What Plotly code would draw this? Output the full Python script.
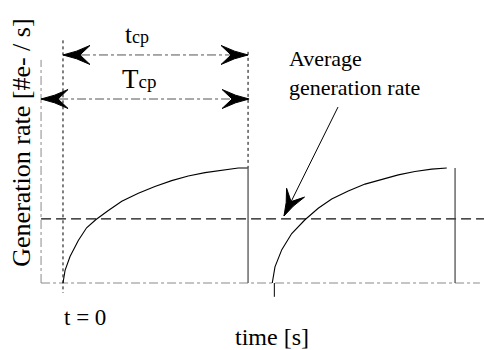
import numpy as np
import plotly.graph_objects as go

# ---- data (time in units of one period, rate normalised) ----
curve1_t = [0.0, 0.01, 0.034, 0.074, 0.114, 0.158, 0.219, 0.284, 0.364, 0.444,
            0.525, 0.605, 0.686, 0.767, 0.847, 0.892]
curve1_rate = [0.0, 0.11, 0.23, 0.37, 0.48, 0.55, 0.63, 0.71, 0.78, 0.84,
               0.89, 0.93, 0.96, 0.98, 1.0, 1.0]
curve2_t = [1.011, 1.024, 1.057, 1.105, 1.169, 1.233, 1.298, 1.378, 1.459,
            1.54, 1.62, 1.70, 1.781, 1.854]
curve2_rate = [0.0, 0.14, 0.29, 0.43, 0.55, 0.65, 0.73, 0.80, 0.86, 0.90,
               0.94, 0.97, 0.99, 1.0]
avg_rate = 0.557
period_edges = [-0.106, 0.894, 1.894]      # Tcp boundaries
tcp_window = [0.0, 0.894]                  # integration time tcp
peak_rate = 1.0

# ---- geometry of the page (axis ranges chosen so that the drawing fills the page) ----
W, H = 484, 350
XR = [-0.3043, 2.0338]
YR = [-0.5826, 2.4609]
px_per_t = W / (XR[1] - XR[0])
px_per_v = H / (YR[1] - YR[0])

FONT = "Liberation Serif"
GRAY = "#8a8a8a"

fig = go.Figure()


def line(xs, ys, color="black", width=1, dash="solid"):
    fig.add_trace(go.Scatter(x=xs, y=ys, mode="lines", hoverinfo="skip",
                             line=dict(color=color, width=width, dash=dash),
                             showlegend=False))


def arrow_head(tip_t, tip_v, from_t, from_v, length=27, half=9.5, notch=17):
    # direction in pixel space
    dx = (tip_t - from_t) * px_per_t
    dy = (tip_v - from_v) * px_per_v
    n = np.hypot(dx, dy)
    ux, uy = dx / n, dy / n
    vx, vy = -uy, ux
    tmpl = [(0, 0), (-length * 0.5, half * 0.4), (-length, half), (-notch, 0),
            (-length, -half), (-length * 0.5, -half * 0.4), (0, 0)]
    xs, ys = [], []
    for a, b in tmpl:
        px = a * ux + b * vx
        py = a * uy + b * vy
        xs.append(tip_t + px / px_per_t)
        ys.append(tip_v + py / px_per_v)
    fig.add_trace(go.Scatter(x=xs, y=ys, mode="lines", fill="toself",
                             fillcolor="black", line=dict(color="black", width=1),
                             hoverinfo="skip", showlegend=False))


# y axis and baseline (dash-dot grey)
line([period_edges[0], period_edges[0]], [0, 1.94], GRAY, 1, "dashdot")
line([period_edges[0], 2.014], [0, 0], GRAY, 1, "dashdot")

# average generation rate
line([period_edges[0], XR[1]], [avg_rate, avg_rate], "#111111", 1.2, "10px,5px")

# t = 0 marker (dotted)
line([tcp_window[0], tcp_window[0]], [2.11, -0.087], "black", 1, "dot")

# period boundaries
line([period_edges[1], period_edges[1]], [2.01, peak_rate], "black", 1, "dot")
line([period_edges[1], period_edges[1]], [peak_rate, 0], "#444444", 1.2)
line([period_edges[2], period_edges[2]], [peak_rate, 0], "#444444", 1.2)
line([curve2_t[0] + 0.01, curve2_t[0] + 0.01], [0, -0.12], "black", 1)

# generation-rate curves
line(curve1_t, curve1_rate, "black", 1.1)
line(curve2_t, curve2_rate, "black", 1.1)

# tcp double arrow
tcp_v = 1.983
line(tcp_window, [tcp_v, tcp_v], "#555555", 1, "dashdot")
arrow_head(tcp_window[0], tcp_v, tcp_window[1], tcp_v)
arrow_head(tcp_window[1], tcp_v, tcp_window[0], tcp_v)

# Tcp double arrow
Tcp_v = 1.60
line([period_edges[0], period_edges[1]], [Tcp_v, Tcp_v], "#555555", 1, "dashdot")
arrow_head(period_edges[0], Tcp_v, period_edges[1], Tcp_v)
arrow_head(period_edges[1] + 0.005, Tcp_v, period_edges[0], Tcp_v)

# pointer to the average generation rate
tail = (1.3285, 1.530)
tip = (1.0676, 0.583)
line([tail[0], tip[0]], [tail[1], tip[1]], "black", 1)
arrow_head(tip[0], tip[1], tail[0], tail[1], length=26, half=10, notch=16)

# ---- texts ----
def text(t, v, s, size, xanchor="center", align="center", angle=0):
    fig.add_annotation(x=t, y=v, xref="x", yref="y", text=s, showarrow=False,
                       xanchor=xanchor, yanchor="middle", align=align,
                       textangle=angle,
                       font=dict(family=FONT, size=size, color="black"))


text(0.357, 2.16, "t<span style='font-size:18px'>cp</span>", 25)
text(0.365, 1.77, "T<span style='font-size:19px'>cp</span>", 27)
text(1.082, 1.83, "Average<br>generation rate", 22, xanchor="left", align="left")
text(0.104, -0.296, "t = 0", 23)
text(1.01, -0.47, "time [s]", 24)
text(-0.198, 1.22, "Generation rate [#e- / s]", 26, angle=-90)

fig.update_layout(
    width=W, height=H, autosize=False,
    margin=dict(l=0, r=0, t=0, b=0),
    paper_bgcolor="white", plot_bgcolor="white",
    xaxis=dict(range=XR, visible=False, fixedrange=True),
    yaxis=dict(range=YR, visible=False, fixedrange=True),
    showlegend=False,
)

fig.write_html("out.html")
